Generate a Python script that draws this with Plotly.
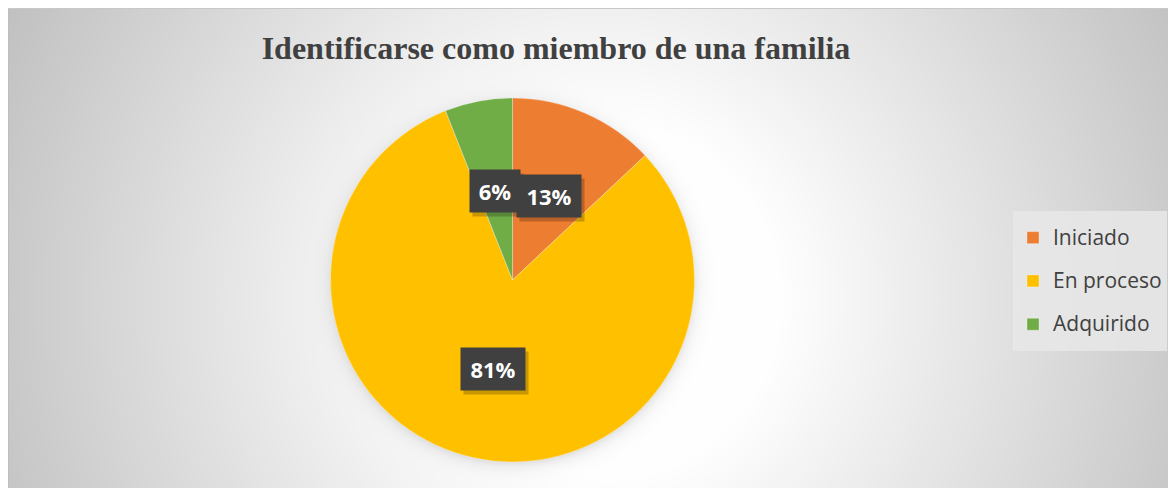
import math, zlib, struct, base64
import numpy as np
import plotly.graph_objects as go

# ---------------- data ----------------
categories = ["Iniciado", "En proceso", "Adquirido"]
values = [13, 81, 6]
label_texts = ["13%", "81%", "6%"]
colors = ["#ED7D31", "#FFC000", "#70AD47"]
title_text = "Identificarse como miembro de una familia"

# ---------------- layout constants ----------------
OFF = 8                              # page body margin (px)
FW, FH = 1176 - OFF, 488 - OFF       # figure size
CX, CY, R = 512.5 - OFF, 280.0 - OFF, 182.0   # pie centre / radius in figure px

# ---------------- background gradient image ----------------
def png_gray(arr):
    h, w = arr.shape
    raw = b"".join(b"\x00" + arr[i].tobytes() for i in range(h))
    def chunk(t, d):
        c = struct.pack(">I", len(d)) + t + d
        return c + struct.pack(">I", zlib.crc32(t + d) & 0xffffffff)
    ihdr = struct.pack(">IIBBBBB", w, h, 8, 0, 0, 0, 0)
    return (b"\x89PNG\r\n\x1a\n" + chunk(b"IHDR", ihdr)
            + chunk(b"IDAT", zlib.compress(raw, 9)) + chunk(b"IEND", b""))

yy, xx = np.mgrid[0:FH, 0:FW].astype(float)
gx = xx + OFF
gy = yy + OFF
d = np.hypot(gx - 600, gy - 300)
g = 255 - 0.128 * np.clip(d - 175, 0, None)
g = np.clip(g, 192, 255)
# soft shadow around the pie
dp = np.hypot(xx - CX, yy - (CY + 3))
sh = np.where(dp > R - 4, 0.13 * np.exp(-np.clip(dp - R + 4, 0, None) / 7.0), 0.13)
g = g * (1 - sh)
g[:, 0] = 190
g[0, :] = 200
img = np.clip(g, 0, 255).astype(np.uint8)
src = "data:image/png;base64," + base64.b64encode(png_gray(img)).decode()

# ---------------- pie ----------------
dom_x = [(CX - R) / FW, (CX + R) / FW]
dom_y = [1 - (CY + R) / FH, 1 - (CY - R) / FH]

legend_labels = ["<span style='font-size:21px;baseline-shift:5px'>%s</span>" % c for c in categories]

fig = go.Figure(go.Pie(
    labels=legend_labels,
    values=values,
    marker=dict(colors=colors, line=dict(color="rgba(255,255,255,0.6)", width=0.5)),
    sort=False,
    direction="clockwise",
    rotation=0,
    textinfo="none",
    hoverinfo="skip",
    domain=dict(x=dom_x, y=dom_y),
    showlegend=True,
))

# ---------------- data labels (dark boxes) ----------------
total = float(sum(values))
cum = 0.0
boxes = []
for v, t in zip(values, label_texts):
    mid = (cum + v / 2) / total * 2 * math.pi
    cum += v
    px = CX + 0.5 * R * math.sin(mid)
    py = CY - 0.5 * R * math.cos(mid)
    boxes.append([px, py, t, 14 * len(t) + 22])

# simple best-fit: push overlapping neighbouring boxes apart (smaller one moves)
for i in range(len(boxes)):
    for j in range(len(boxes)):
        if i == j:
            continue
        a, b = boxes[i], boxes[j]
        if abs(a[1] - b[1]) < 42 and len(a[2]) < len(b[2]):
            ov = (a[3] + b[3]) / 2 - abs(a[0] - b[0])
            if ov > 4:
                a[0] += -(ov - 4) if a[0] < b[0] else (ov - 4)

annotations = []
order = [2, 0, 1]  # draw 6% first so 13% overlaps it
for i in order:
    px, py, t, w = boxes[i]
    common = dict(x=px / FW, y=1 - py / FH, xref="paper", yref="paper",
                  xanchor="center", yanchor="middle",
                  showarrow=False, width=w, height=42, borderpad=0,
                  align="center", valign="middle")
    annotations.append(dict(text=t, bgcolor="rgba(0,0,0,0.22)", xshift=3, yshift=-4,
                            font=dict(family="Open Sans", size=22, color="rgba(0,0,0,0)", weight="bold"),
                            **common))
    annotations.append(dict(text=t, bgcolor="#404040",
                            font=dict(family="Open Sans", size=22, color="white", weight="bold"),
                            **common))

fig.update_layout(
    width=FW, height=FH,
    margin=dict(l=0, r=0, t=0, b=0),
    paper_bgcolor="white",
    plot_bgcolor="rgba(0,0,0,0)",
    title=dict(text=title_text, x=(556 - OFF) / FW, xanchor="center", y=1 - (48 - OFF) / FH,
               yanchor="middle",
               font=dict(family="Liberation Serif", size=32, color="#404040", weight="bold")),
    legend=dict(x=(1013 - OFF) / FW, y=1 - (211 - OFF) / FH, xanchor="left", yanchor="top",
                bgcolor="rgba(232,232,232,0.85)", borderwidth=0,
                font=dict(family="Open Sans", size=31, color="#404040")),
    images=[dict(source=src, xref="paper", yref="paper", x=0, y=1,
                 sizex=1, sizey=1, sizing="stretch", layer="below",
                 xanchor="left", yanchor="top")],
    annotations=annotations,
)

fig.write_html("out.html")
